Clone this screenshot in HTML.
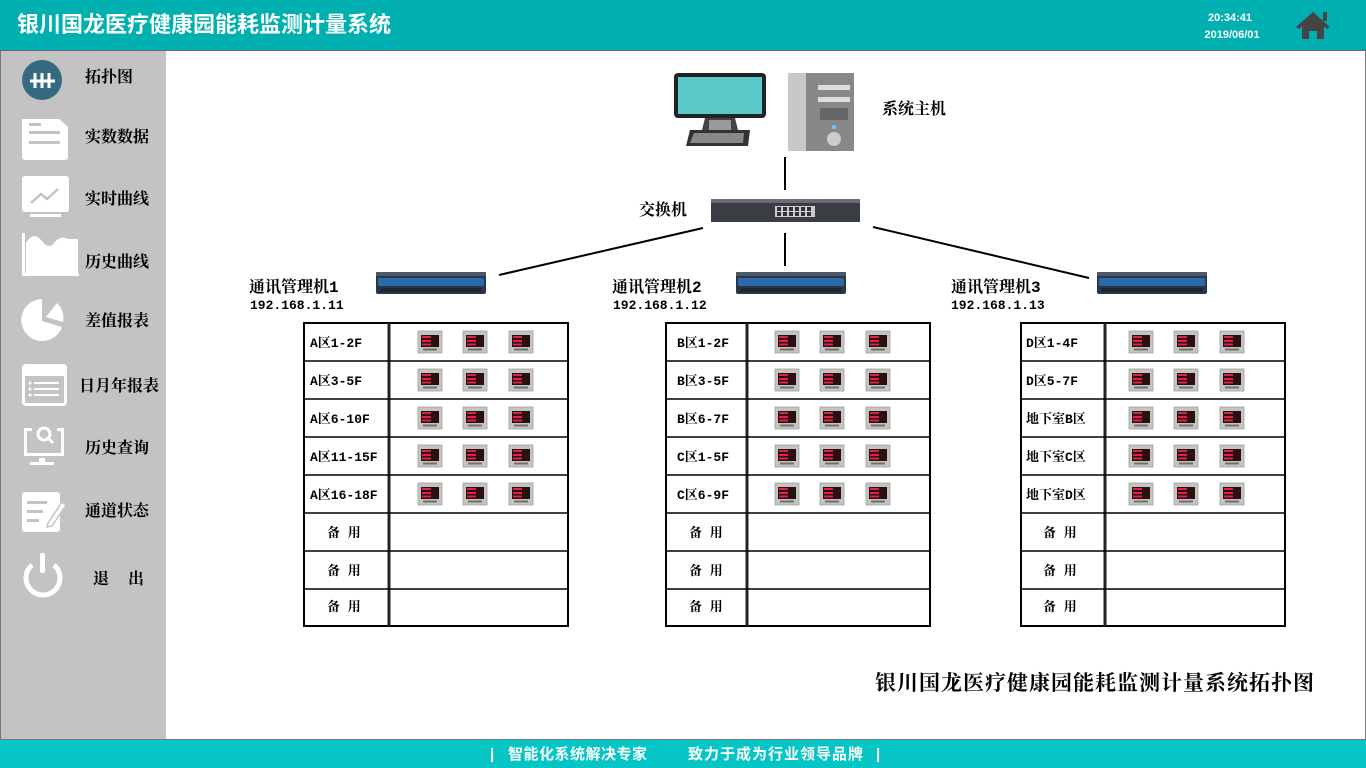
<!DOCTYPE html>
<html><head><meta charset="utf-8"><style>
html,body{margin:0;padding:0;width:1366px;height:768px;overflow:hidden;background:#fff}
svg{display:block}
text{font-family:"Liberation Serif","Noto Serif CJK SC","Noto Sans CJK SC",serif;font-weight:bold}
.s{font-family:"Liberation Sans","Noto Sans CJK SC",sans-serif}
.mo{font-family:"Liberation Mono","Noto Serif CJK SC",monospace}
</style></head><body>
<svg width="1366" height="768" viewBox="0 0 1366 768" xmlns="http://www.w3.org/2000/svg">
<defs>
<g id="m">
<rect x="0" y="0" width="24" height="22" fill="#c4c4c0" stroke="#a0a0a0" stroke-width="0.8"/>
<rect x="3" y="4" width="18" height="12" fill="#2a1010"/>
<rect x="4" y="5" width="9" height="2" fill="#e0204a"/>
<rect x="4" y="9" width="9" height="2" fill="#e0204a"/>
<rect x="4" y="12.5" width="9" height="2" fill="#e0204a"/>
<rect x="5" y="17.5" width="14" height="2" fill="#707070"/>
</g>
<g id="mgr">
<rect x="0" y="2" width="110" height="20" rx="2" fill="#283848"/>
<rect x="2" y="6" width="106" height="8" fill="#2a6aa8"/>
<rect x="0" y="0" width="110" height="4" fill="#4a5868"/>
<rect x="4" y="16" width="102" height="4" fill="#1d2834"/>
</g>
</defs>
<!-- header -->
<rect x="0" y="0" width="1366" height="50" fill="#00AFAF"/>
<text x="17" y="32" class="s" font-size="22" fill="#fff">银川国龙医疗健康园能耗监测计量系统</text>
<text x="1230" y="21" class="s" font-size="11" fill="#fff" text-anchor="middle">20:34:41</text>
<text x="1232" y="38" class="s" font-size="11" fill="#fff" text-anchor="middle">2019/06/01</text>
<g fill="#444">
<polygon points="1296,27 1313,12 1330,27 1327,29 1313,17 1299,29"/>
<rect x="1323" y="12" width="4" height="9"/>
<polygon points="1302,26 1313,17 1324,26 1324,39 1317,39 1317,31 1309,31 1309,39 1302,39"/>
</g>
<rect x="0" y="50" width="1366" height="1" fill="#666"/>
<!-- sidebar -->
<rect x="0" y="51" width="166" height="688" fill="#C3C3C3"/>
<rect x="0" y="51" width="1" height="688" fill="#777"/>
<rect x="1365" y="51" width="1" height="688" fill="#777"/>
<g fill="#fff">
<circle cx="42" cy="80" r="20" fill="#346B80"/>
<g stroke="#fff" stroke-width="3"><line x1="30" y1="81" x2="55" y2="81"/><line x1="35" y1="73" x2="35" y2="88"/><line x1="42" y1="73" x2="42" y2="88"/><line x1="49" y1="73" x2="49" y2="88"/></g>
<path d="M22 119 h37 l9 8 v30 a3 3 0 0 1 -3 3 h-40 a3 3 0 0 1 -3 -3z"/>
<g fill="#C3C3C3"><rect x="29" y="123" width="12" height="3"/><rect x="29" y="131" width="31" height="3"/><rect x="29" y="141" width="31" height="3"/></g>
<rect x="22" y="176" width="47" height="36" rx="3"/><rect x="30" y="214" width="31" height="3"/>
<polyline points="31,203 41,194 47,199 58,189" fill="none" stroke="#C3C3C3" stroke-width="2.5"/>
<path d="M26 243 q7 -12 15 -3 q8 10 13 3 q6 -8 14 -4 l10 0 v34 h-52z"/>
<rect x="22" y="273" width="57" height="3"/><rect x="22" y="233" width="3" height="43"/>
<path d="M42 321 L42 299 A21 21 0 1 0 62 327 Z"/>
<path d="M46 317 L57 303 A20 20 0 0 1 63 322Z"/>
<rect x="22" y="364" width="45" height="42" rx="4"/>
<g fill="#C3C3C3"><rect x="25" y="376" width="39" height="27"/></g>
<g fill="#fff"><circle cx="30" cy="383" r="1.5"/><circle cx="30" cy="389" r="1.5"/><circle cx="30" cy="395" r="1.5"/><rect x="34" y="382" width="25" height="2"/><rect x="34" y="388" width="25" height="2"/><rect x="34" y="394" width="25" height="2"/></g>
<path d="M24 428 h8 v3 h-5 v22 h34 v-22 h-4 v-3 h7 v28 h-40z"/><rect x="39" y="458" width="6" height="5"/><rect x="30" y="462" width="24" height="3"/>
<circle cx="44" cy="434" r="6" fill="none" stroke="#fff" stroke-width="3"/><line x1="48" y1="438" x2="53" y2="443" stroke="#fff" stroke-width="3"/>
<rect x="22" y="492" width="38" height="40" rx="3"/>
<g fill="#C3C3C3"><rect x="27" y="501" width="20" height="3"/><rect x="27" y="510" width="16" height="3"/><rect x="27" y="519" width="12" height="3"/></g>
<polygon points="48,523 62,502 66,505 52,526 47,527" fill="#fff" stroke="#C3C3C3" stroke-width="1.5"/>
<path d="M32 565 A17 17 0 1 0 54 565" fill="none" stroke="#fff" stroke-width="5"/>
<rect x="40" y="553" width="5" height="20" rx="2"/>
</g>
<g font-size="16" fill="#000">
<text x="85" y="82">拓扑图</text>
<text x="85" y="142">实数数据</text>
<text x="85" y="204">实时曲线</text>
<text x="85" y="267">历史曲线</text>
<text x="85" y="326">差值报表</text>
<text x="79" y="391">日月年报表</text>
<text x="85" y="453">历史查询</text>
<text x="85" y="516">通道状态</text>
<text x="93" y="584">退</text><text x="128" y="584">出</text>
</g>
<!-- footer -->
<rect x="0" y="739" width="1366" height="1" fill="#777"/>
<rect x="0" y="740" width="1366" height="28" fill="#05C5C5"/>
<g class="s" font-size="15" fill="#fff">
<text x="490" y="759" class="s">|</text>
<text x="508" y="759" class="s" letter-spacing="0.5">智能化系统解决专家</text>
<text x="688" y="759" class="s" letter-spacing="1">致力于成为行业领导品牌</text>
<text x="876" y="759" class="s">|</text>
</g>
<!-- computer -->
<rect x="674" y="73" width="92" height="45" rx="4" fill="#222"/>
<rect x="678" y="77" width="84" height="37" fill="#5cc8c8"/>
<polygon points="705,118 735,118 740,138 700,138" fill="#444"/>
<rect x="709" y="120" width="22" height="16" fill="#999"/>
<polygon points="690,130 750,130 748,146 686,146" fill="#333"/>
<polygon points="694,133 744,133 743,143 690,143" fill="#888"/>
<rect x="788" y="73" width="66" height="78" fill="#aaa"/>
<rect x="788" y="73" width="18" height="78" fill="#c8c8c8"/>
<rect x="806" y="73" width="48" height="78" fill="#888"/>
<rect x="818" y="85" width="32" height="5" fill="#ddd"/><rect x="818" y="97" width="32" height="5" fill="#ddd"/>
<rect x="820" y="108" width="28" height="12" fill="#666"/>
<circle cx="834" cy="139" r="7" fill="#ccc"/><circle cx="834" cy="127" r="2" fill="#6cf"/>
<text x="882" y="114" font-size="16" fill="#000">系统主机</text>
<!-- lines -->
<g stroke="#000" stroke-width="2">
<line x1="785" y1="157" x2="785" y2="190"/>
<line x1="785" y1="233" x2="785" y2="266"/>
<line x1="499" y1="275" x2="703" y2="228"/>
<line x1="873" y1="227" x2="1089" y2="278"/>
</g>
<!-- switch -->
<rect x="711" y="199" width="149" height="23" fill="#3a3e44"/>
<rect x="711" y="199" width="149" height="4" fill="#6a6e74"/>
<rect x="775" y="206" width="40" height="11" fill="#ccc"/>
<g fill="#333"><rect x="777" y="207" width="4" height="4"/><rect x="783" y="207" width="4" height="4"/><rect x="789" y="207" width="4" height="4"/><rect x="795" y="207" width="4" height="4"/><rect x="801" y="207" width="4" height="4"/><rect x="807" y="207" width="4" height="4"/><rect x="777" y="212" width="4" height="4"/><rect x="783" y="212" width="4" height="4"/><rect x="789" y="212" width="4" height="4"/><rect x="795" y="212" width="4" height="4"/><rect x="801" y="212" width="4" height="4"/><rect x="807" y="212" width="4" height="4"/></g>
<text x="639" y="215" font-size="16" fill="#000">交换机</text>
<!-- managers -->
<use href="#mgr" x="376" y="272"/><use href="#mgr" x="736" y="272"/><use href="#mgr" x="1097" y="272"/>
<g font-size="16" fill="#000"><text x="249" y="292" class="mo">通讯管理机1</text><text x="612" y="292" class="mo">通讯管理机2</text><text x="951" y="292" class="mo">通讯管理机3</text></g>
<g font-size="13" fill="#000"><text x="250" y="309" class="mo">192.168.1.11</text><text x="613" y="309" class="mo">192.168.1.12</text><text x="951" y="309" class="mo">192.168.1.13</text></g>
<!-- tables -->
<g fill="none" stroke="#000">
<rect x="304" y="323" width="264" height="303" stroke-width="2"/>
<rect x="666" y="323" width="264" height="303" stroke-width="2"/>
<rect x="1021" y="323" width="264" height="303" stroke-width="2"/>
<line x1="389" y1="323" x2="389" y2="626" stroke-width="3" stroke="#222"/>
<line x1="747" y1="323" x2="747" y2="626" stroke-width="3" stroke="#222"/>
<line x1="1105" y1="323" x2="1105" y2="626" stroke-width="3" stroke="#222"/>
<g stroke-width="1.5">
<path d="M304 361H568M304 399H568M304 437H568M304 475H568M304 513H568M304 551H568M304 589H568"/>
<path d="M666 361H930M666 399H930M666 437H930M666 475H930M666 513H930M666 551H930M666 589H930"/>
<path d="M1021 361H1285M1021 399H1285M1021 437H1285M1021 475H1285M1021 513H1285M1021 551H1285M1021 589H1285"/>
</g></g>
<g font-size="13" fill="#000" class="mo">
<text class="mo" x="310" y="347">A区1-2F</text><text class="mo" x="310" y="385">A区3-5F</text><text class="mo" x="310" y="423">A区6-10F</text><text class="mo" x="310" y="461">A区11-15F</text><text class="mo" x="310" y="499">A区16-18F</text>
<text class="mo" x="677" y="347">B区1-2F</text><text class="mo" x="677" y="385">B区3-5F</text><text class="mo" x="677" y="423">B区6-7F</text><text class="mo" x="677" y="461">C区1-5F</text><text class="mo" x="677" y="499">C区6-9F</text>
<text class="mo" x="1026" y="347">D区1-4F</text><text class="mo" x="1026" y="385">D区5-7F</text><text class="mo" x="1026" y="423">地下室B区</text><text class="mo" x="1026" y="461">地下室C区</text><text class="mo" x="1026" y="499">地下室D区</text>
<g xml:space="preserve">
<text class="mo" x="327" y="537">备  用</text><text class="mo" x="327" y="575">备  用</text><text class="mo" x="327" y="611">备  用</text>
<text class="mo" x="689" y="537">备  用</text><text class="mo" x="689" y="575">备  用</text><text class="mo" x="689" y="611">备  用</text>
<text class="mo" x="1043" y="537">备  用</text><text class="mo" x="1043" y="575">备  用</text><text class="mo" x="1043" y="611">备  用</text>
</g></g>
<g>
<use href="#m" x="418" y="331"/><use href="#m" x="463" y="331"/><use href="#m" x="509" y="331"/>
<use href="#m" x="418" y="369"/><use href="#m" x="463" y="369"/><use href="#m" x="509" y="369"/>
<use href="#m" x="418" y="407"/><use href="#m" x="463" y="407"/><use href="#m" x="509" y="407"/>
<use href="#m" x="418" y="445"/><use href="#m" x="463" y="445"/><use href="#m" x="509" y="445"/>
<use href="#m" x="418" y="483"/><use href="#m" x="463" y="483"/><use href="#m" x="509" y="483"/>
<use href="#m" x="775" y="331"/><use href="#m" x="820" y="331"/><use href="#m" x="866" y="331"/>
<use href="#m" x="775" y="369"/><use href="#m" x="820" y="369"/><use href="#m" x="866" y="369"/>
<use href="#m" x="775" y="407"/><use href="#m" x="820" y="407"/><use href="#m" x="866" y="407"/>
<use href="#m" x="775" y="445"/><use href="#m" x="820" y="445"/><use href="#m" x="866" y="445"/>
<use href="#m" x="775" y="483"/><use href="#m" x="820" y="483"/><use href="#m" x="866" y="483"/>
<use href="#m" x="1129" y="331"/><use href="#m" x="1174" y="331"/><use href="#m" x="1220" y="331"/>
<use href="#m" x="1129" y="369"/><use href="#m" x="1174" y="369"/><use href="#m" x="1220" y="369"/>
<use href="#m" x="1129" y="407"/><use href="#m" x="1174" y="407"/><use href="#m" x="1220" y="407"/>
<use href="#m" x="1129" y="445"/><use href="#m" x="1174" y="445"/><use href="#m" x="1220" y="445"/>
<use href="#m" x="1129" y="483"/><use href="#m" x="1174" y="483"/><use href="#m" x="1220" y="483"/>
</g>
<text x="875" y="690" font-size="21" letter-spacing="1" fill="#000">银川国龙医疗健康园能耗监测计量系统拓扑图</text>
</svg>
</body></html>
